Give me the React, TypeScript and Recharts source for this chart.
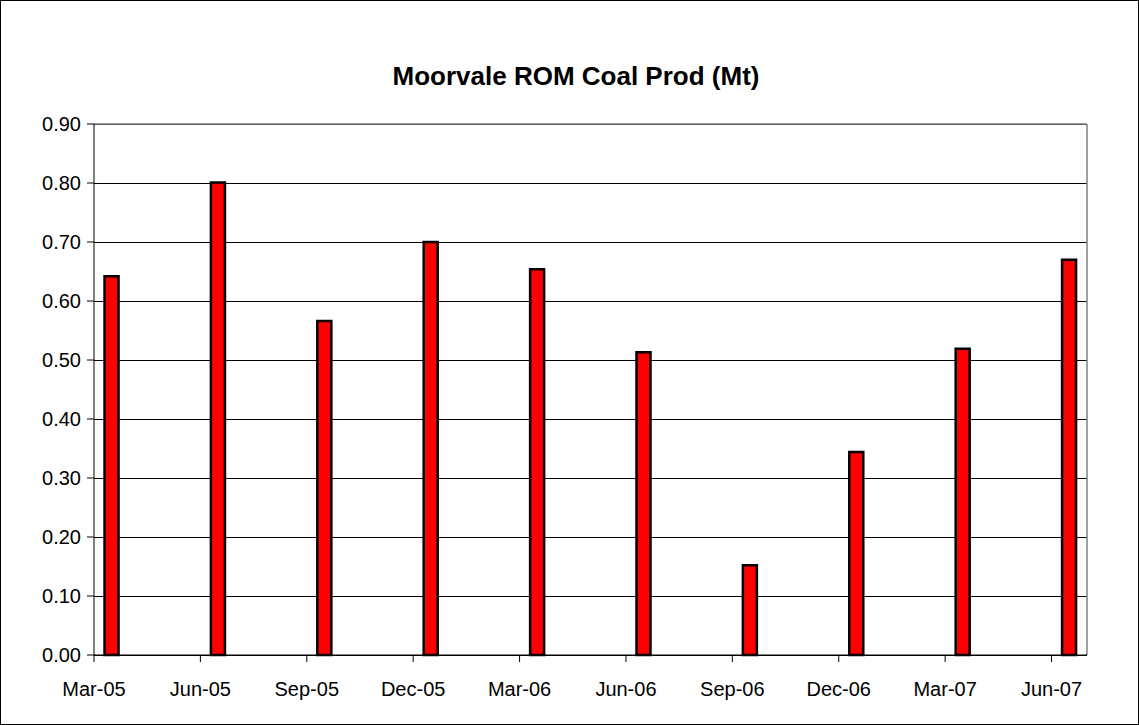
import { BarChart, Bar, XAxis, YAxis, CartesianGrid, ReferenceLine } from "recharts"

const categories = ["Mar-05", "Jun-05", "Sep-05", "Dec-05", "Mar-06", "Jun-06", "Sep-06", "Dec-06", "Mar-07", "Jun-07"]
const romCoal = [0.642, 0.801, 0.566, 0.7, 0.654, 0.513, 0.152, 0.344, 0.519, 0.67]
const yTicks = [0, 0.1, 0.2, 0.3, 0.4, 0.5, 0.6, 0.7, 0.8, 0.9]

// date axis in months, one category per quarter, bar sits in the middle of its month
const data = categories.map((c, i) => ({ name: c, x: i * 3 + 0.5, v: romCoal[i] }))
const xTicks = categories.map((_, i) => i * 3)

const font = "'Liberation Sans', Arial, sans-serif"

export default function App() {
  return (
    <div
      style={{
        position: "absolute",
        top: 0,
        left: 0,
        width: 1139,
        height: 725,
        boxSizing: "border-box",
        border: "1px solid #000",
        background: "#fff",
        fontFamily: font,
      }}
    >
      <div
        style={{
          position: "absolute",
          top: 60,
          left: 0,
          width: 1150,
          textAlign: "center",
          fontSize: 26,
          fontWeight: "bold",
        }}
      >
        Moorvale ROM Coal Prod (Mt)
      </div>
      <div style={{ position: "absolute", top: -1, left: -1 }}>
        <BarChart width={1139} height={725} data={data} margin={{ top: 124, right: 52, left: 0, bottom: 0 }}>
          <CartesianGrid vertical={false} stroke="#000" strokeWidth={1} shapeRendering="crispEdges" />
          <XAxis
            type="number"
            dataKey="x"
            domain={[0, 28]}
            ticks={xTicks}
            tickFormatter={(v: number) => categories[v / 3]}
            interval={0}
            height={70}
            tickSize={7}
            tickMargin={20}
            stroke="#000"
            tick={{ fill: "#000", fontSize: 20, fontFamily: font }}
          />
          <YAxis
            domain={[0, 0.9]}
            ticks={yTicks}
            tickFormatter={(v: number) => v.toFixed(2)}
            width={94}
            tickSize={7}
            tickMargin={6}
            stroke="#000"
            tick={{ fill: "#000", fontSize: 20, fontFamily: font }}
          />
          <ReferenceLine y={0.9} stroke="#808080" strokeWidth={1.5} />
          <ReferenceLine x={28} stroke="#808080" strokeWidth={1.5} />
          <Bar dataKey="v" fill="#FF0000" stroke="#000" strokeWidth={2.5} barSize={14} isAnimationActive={false} />
        </BarChart>
      </div>
    </div>
  )
}
